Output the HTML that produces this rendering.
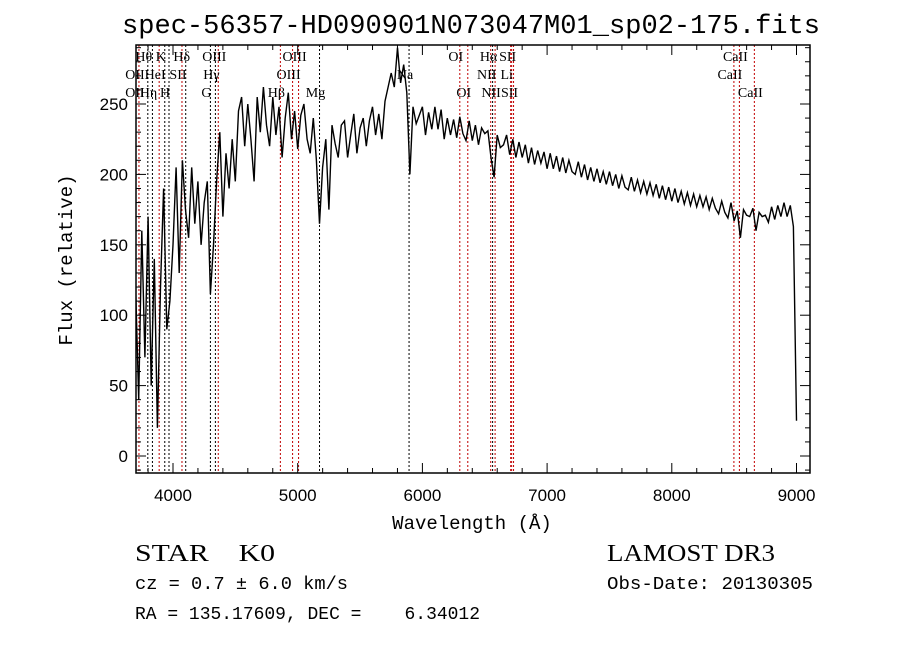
<!DOCTYPE html>
<html><head><meta charset="utf-8"><style>
body{margin:0;background:#fff;}
</style></head><body>
<svg id="chart" width="900" height="649" viewBox="0 0 900 649" xmlns="http://www.w3.org/2000/svg" font-family="Liberation Sans, sans-serif">
<rect width="900" height="649" fill="#fff"/>
<text x="471" y="33" font-family="Liberation Mono, monospace" font-size="26.5" text-anchor="middle" textLength="698" lengthAdjust="spacingAndGlyphs">spec-56357-HD090901N073047M01_sp02-175.fits</text>
<g id="lines"></g>
<g id="labels"></g>
<g id="spec"></g>
<g id="axes"></g>
<text x="472" y="529" font-family="Liberation Mono, monospace" font-size="19" text-anchor="middle">Wavelength (Å)</text>
<text transform="translate(72,260) rotate(-90)" font-family="Liberation Mono, monospace" font-size="19" text-anchor="middle">Flux (relative)</text>
<text x="135" y="561" font-family="Liberation Serif, serif" font-size="24" xml:space="preserve" textLength="140" lengthAdjust="spacingAndGlyphs">STAR    K0</text>
<text x="607" y="561" font-family="Liberation Serif, serif" font-size="24" textLength="168" lengthAdjust="spacingAndGlyphs">LAMOST DR3</text>
<text x="135" y="589" font-family="Liberation Mono, monospace" font-size="18" xml:space="preserve" textLength="213" lengthAdjust="spacingAndGlyphs">cz = 0.7 ± 6.0 km/s</text>
<text x="607" y="589" font-family="Liberation Mono, monospace" font-size="18" textLength="206" lengthAdjust="spacingAndGlyphs">Obs-Date: 20130305</text>
<text x="135" y="619" font-family="Liberation Mono, monospace" font-size="18" xml:space="preserve" textLength="345" lengthAdjust="spacingAndGlyphs">RA = 135.17609, DEC =    6.34012</text>
</svg>
<script>
const waveStart = 3700, waveStep = 25;
const flux = [120,40,160,70,170,50,140,20,120,190,90,110,
150,205,130,210,175,155,205,165,195,150,180,195,115,150,195,230,170,215,190,225,195,245,255,220,250,225,195,255,230,262,235,220,255,228,248,212,
240,258,225,245,218,242,250,225,215,240,210,165,205,225,175,235,222,212,235,238,212,228,243,215,233,240,220,238,248,228,243,225,252,262,272,262,290,265,278,258,200,
248,236,242,248,228,244,232,248,232,246,225,240,228,239,226,241,229,224,238,224,235,221,233,229,231,212,198,228,219,221,228,214,225,212,223,212,
221,208,219,207,217,208,216,204,215,204,213,202,212,201,210,202,200,209,198,207,196,205,195,204,194,202,193,202,192,200,190,199,191,189,198,188,196,187,195,186,194,185,193,183,192,182,191,181,190,180,188,179,187,178,186,177,185,177,184,175,183,176,172,181,173,169,180,167,174,155,175,171,170,176,160,173,170,171,166,177,168,178,170,180,170,178,163,25];
const xTicks = [4000,5000,6000,7000,8000,9000];
const yTicks = [0,50,100,150,200,250];
const lineWaves = [3727,3798,3835,3889,3934,3968,4072,4102,4300,4340,4363,4861,4959,5007,5175,5893,6300,6364,6548,6563,6583,6708,6716,6731,8498,8542,8662];
const lineBlack = [0,1,1,0,1,1,0,1,1,1,0,0,0,0,1,1,0,0,0,1,0,0,0,0,0,0,0];
const labelText = ["Hθ","K","Hδ","OIII","OIII","OI","Hα","SII","CaII","OII","HeI","SII","Hγ","OIII","Na","NII","Li","CaII","OII","Hη","H","G","Hβ","Mg","OI","NII","SII","CaII"];
const labelWave = [3798,3934,4102,4363,5007,6300,6563,6716,8542,3727,3889,4072,4340,4959,5893,6548,6708,8498,3727,3835,3968,4300,4861,5175,6364,6583,6731,8662];
const labelRow = [0,0,0,0,0,0,0,0,0,1,1,1,1,1,1,1,1,1,2,2,2,2,2,2,2,2,2,2];

const L=136,R=810,T=45,B=473;
const xs=w=>173+(w-4000)*0.1247;
const ys=f=>456-f*1.408;
const NS="http://www.w3.org/2000/svg";
function mk(tag,attrs,parent){const e=document.createElementNS(NS,tag);for(const k in attrs)e.setAttribute(k,attrs[k]);parent.appendChild(e);return e;}
const svg=document.getElementById('chart');
const defs=mk('defs',{},svg);
const cp=mk('clipPath',{id:'clip'},defs);mk('rect',{x:L,y:T,width:R-L,height:B-T},cp);

const lg=document.getElementById('lines');
lineWaves.forEach((w,i)=>{
 const l=mk('line',{x1:xs(w),x2:xs(w),y1:T,y2:B,stroke:lineBlack[i]?'#000':'#c00000','stroke-width':1,'stroke-dasharray':'2,2'},lg);
 
 
});
const lb=document.getElementById('labels');
labelText.forEach((t,i)=>{
 const e=mk('text',{x:xs(labelWave[i])-4,y:61+labelRow[i]*18,'font-size':14,'font-family':'Liberation Serif, serif','text-anchor':'middle'},lb);
 e.textContent=t;
 
 
});
const sg=document.getElementById('spec');
let d='';
flux.forEach((f,i)=>{const w=waveStart+i*waveStep;d+=(i?'L':'M')+xs(w).toFixed(1)+','+ys(f).toFixed(1);});
const p=mk('path',{d:d,fill:'none',stroke:'#000','stroke-width':1.4,'clip-path':'url(#clip)'},sg);



const ax=document.getElementById('axes');
const fr=mk('rect',{x:L,y:T,width:R-L,height:B-T,fill:'none',stroke:'#000','stroke-width':1.5},ax);


for(let w=3800;w<=9100;w+=200){const x=xs(w);const maj=(w%1000===0);const h=maj?10:5;
 mk('line',{x1:x,x2:x,y1:B,y2:B-h,stroke:'#000'},ax);mk('line',{x1:x,x2:x,y1:T,y2:T+h,stroke:'#000'},ax);}
for(let f=-10;f<=290;f+=10){const y=ys(f);const h=(f%50===0)?10:5;
 mk('line',{x1:L,x2:L+h,y1:y,y2:y,stroke:'#000'},ax);mk('line',{x1:R,x2:R-h,y1:y,y2:y,stroke:'#000'},ax);}
xTicks.forEach(w=>{const t=mk('text',{x:xs(w),y:501,'font-size':17,'text-anchor':'middle'},ax);t.textContent=w;
 
 });
yTicks.forEach(f=>{const t=mk('text',{x:128,y:ys(f)+6,'font-size':17,'text-anchor':'end'},ax);t.textContent=f;
 
 });
</script>
</body></html>
